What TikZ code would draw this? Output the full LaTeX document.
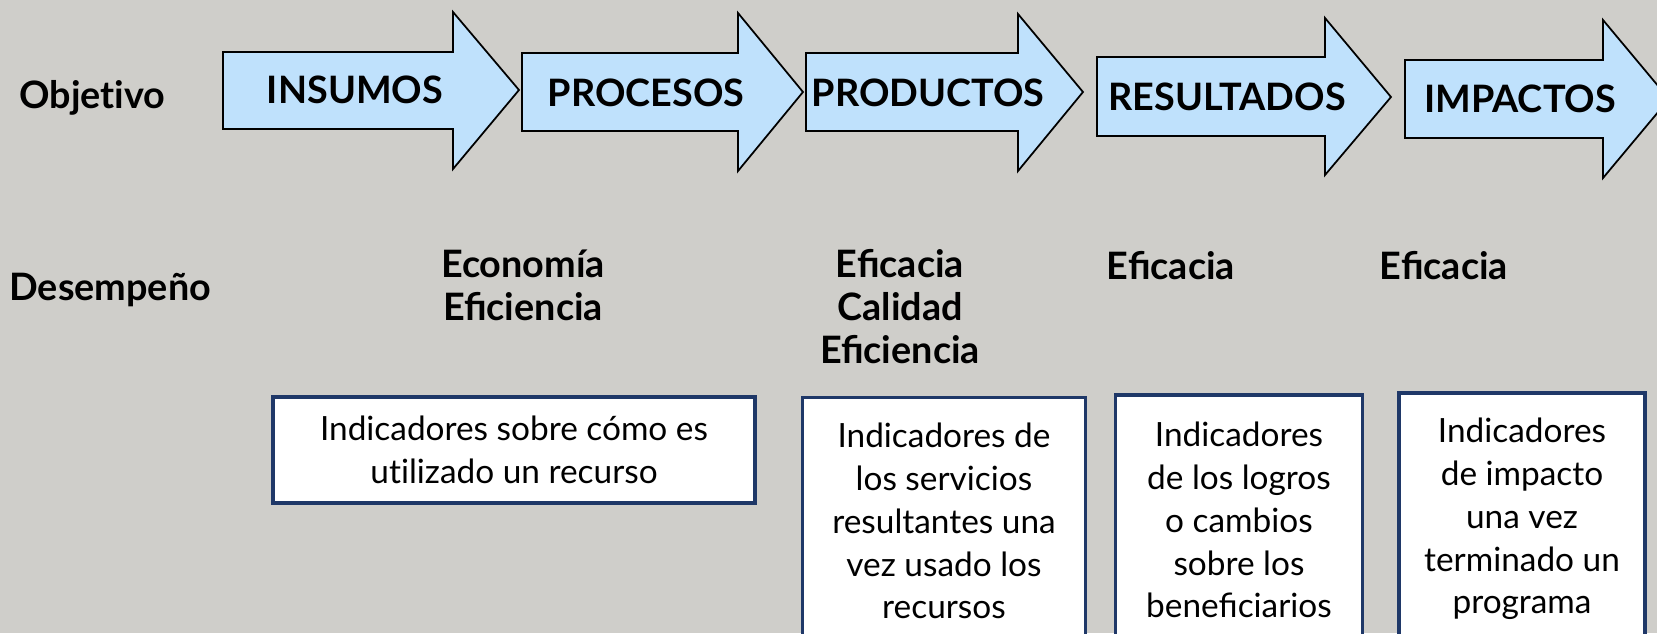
\documentclass[tikz,border=0pt]{standalone}
\usepackage{fontspec}
\setmainfont{Lato}
\usepackage{tikz}
\definecolor{fondo}{RGB}{207,206,202}
\definecolor{celeste}{RGB}{191,225,252}
\definecolor{marino}{RGB}{31,56,104}
\tikzset{
  flecha/.style={draw=black,fill=celeste,line width=1pt,line join=miter},
  etapa/.style={font=\bfseries\fontsize{21.5}{24}\selectfont},
  rotulo/.style={font=\bfseries\fontsize{21.5}{24.4}\selectfont,align=center},
  caja/.style={draw=marino,fill=white,line width=2.2pt,align=center,inner sep=0pt,font=\fontsize{19}{24.4}\selectfont}
}

\begin{document}
\begin{tikzpicture}[x=0.02cm,y=-0.02cm]
                    \fill[fondo] (0,0) rectangle (1657,633);
                    \useasboundingbox (0,0) rectangle (1657,633);

                    % cadena de flechas
                    \draw[flecha] (223,52) -- (453,52) -- (453,12) -- (519,90) -- (453,169) -- (453,129) -- (223,129) -- cycle;
                    \draw[flecha] (522,53) -- (738,53) -- (738,13) -- (803,92) -- (738,171) -- (738,131) -- (522,131) -- cycle;
                    \draw[flecha] (806,53) -- (1018,53) -- (1018,14) -- (1083,92) -- (1018,171) -- (1018,131) -- (806,131) -- cycle;
                    \draw[flecha] (1097,57) -- (1325,57) -- (1325,18) -- (1391,97) -- (1325,175) -- (1325,136) -- (1097,136) -- cycle;
                    \draw[flecha] (1405,60) -- (1603,60) -- (1603,20) -- (1669,99) -- (1603,178) -- (1603,138) -- (1405,138) -- cycle;

                    \node[etapa,anchor=base] (insumos) at (355,103) {INSUMOS};
                    \node[etapa,anchor=base] (procesos) at (646,106) {PROCESOS};
                    \node[etapa,anchor=base] (productos) at (928,106) {PRODUCTOS};
                    \node[etapa,anchor=base] (resultados) at (1227,110) {RESULTADOS};
                    \node[etapa,anchor=base] (impactos) at (1520,112) {IMPACTOS};

                    % filas
                    \node[rotulo,anchor=base west,inner sep=0pt] (objetivo) at (19,108) {Objet\kern0pt ivo};
                    \node[rotulo,anchor=base west,inner sep=0pt] (desempeno) at (9,300) {Desempeño};

                    \node[rotulo,anchor=base] (economia) at (523,320) {Economía\\Eficiencia};
                    \node[rotulo,anchor=base] (eficacia2) at (900,363) {Eficacia\\Calidad\\Eficiencia};
                    \node[rotulo,anchor=base] (eficacia3) at (1171,279) {Eficacia};
                    \node[rotulo,anchor=base] (eficacia4) at (1444,279) {Eficacia};

                    % indicadores
                    \node[caja,minimum width=9.64cm,minimum height=2.12cm] (caja1) at (514,450) {Indicadores sobre cómo es\\ut\kern0pt ilizado un recurso};
                    \node[caja,minimum width=5.66cm,minimum height=4.94cm] (caja2) at (944,521) {Indicadores de\\los servicios\\resultantes una\\vez usado los\\recursos};
                    \node[caja,minimum width=4.94cm,minimum height=5cm] (caja3) at (1239,520) {Indicadores\\de los logros\\o cambios\\sobre los\\beneficiarios};
                    \node[caja,minimum width=4.92cm,minimum height=5.04cm] (caja4) at (1522,519) {Indicadores\\de impacto\\una vez\\terminado un\\programa};
                \end{tikzpicture}
\end{document}
